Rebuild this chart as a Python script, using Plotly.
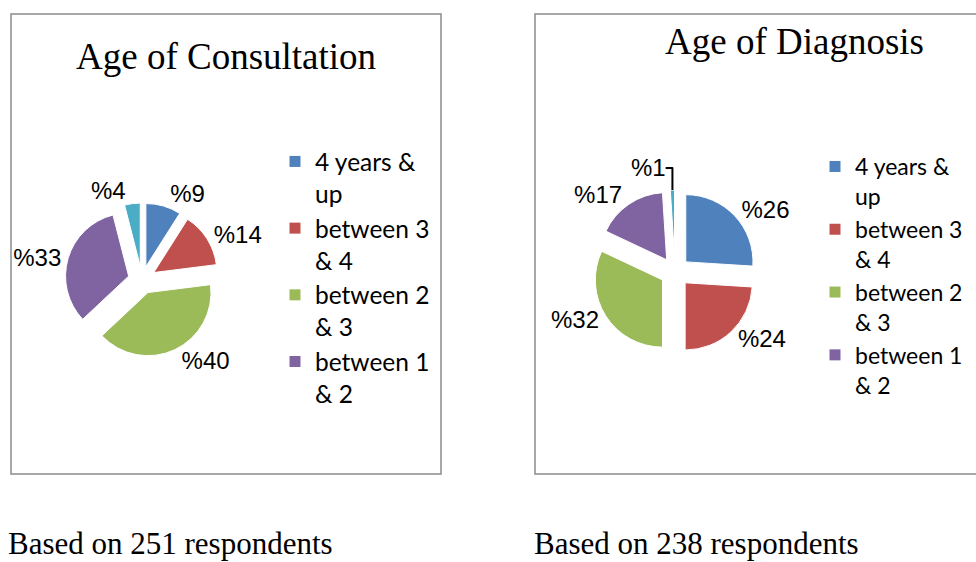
import plotly.graph_objects as go

W, H = 976, 562

# ---- data ----
categories = ["4 years &<br>up", "between 3<br>& 4", "between 2<br>& 3", "between 1<br>& 2", "under 1"]
consultation_values = [9, 14, 40, 33, 4]
diagnosis_values = [26, 24, 32, 17, 1]
colors = ["#4F81BD", "#C0504D", "#9BBB59", "#8064A2", "#4BACC6"]
titles = ["Age of Consultation", "Age of Diagnosis"]
captions = ["Based on 251 respondents", "Based on 238 respondents"]
legend_count = 4  # the fifth slice has no legend entry


def px_x(v):
    return v / W


def px_y(v):
    return 1 - v / H


fig = go.Figure()


def add_pie(values, cx, cy, half, pull):
    fig.add_trace(go.Pie(
        values=values,
        labels=categories,
        text=["%" + str(v) for v in values],
        textinfo="text",
        textposition="outside",
        textfont=dict(family="Liberation Sans, Arial", size=24, color="black"),
        sort=False,
        direction="clockwise",
        rotation=0,
        pull=pull,
        marker=dict(colors=colors, line=dict(color="white", width=1)),
        domain=dict(x=[px_x(cx - half), px_x(cx + half)],
                    y=[px_y(cy + half), px_y(cy - half)]),
        showlegend=False,
        hoverinfo="label+percent",
    ))


add_pie(consultation_values, 142, 280, 77, 0.22)
add_pie(diagnosis_values, 675, 272, 82, 0.22)

# legend entries (4 categories) for each chart
for li, leg in enumerate(["legend", "legend2"]):
    for i in range(legend_count):
        fig.add_trace(go.Scatter(
            x=[None], y=[None], mode="markers",
            marker=dict(symbol="square", size=11, color=colors[i]),
            name=categories[i], legend=leg, showlegend=True,
            xaxis="x", yaxis="y",
        ))

fig.update_layout(
    width=W, height=H, autosize=False,
    margin=dict(l=0, r=0, t=0, b=0, autoexpand=False),
    paper_bgcolor="white", plot_bgcolor="white",
    xaxis=dict(visible=False, domain=[0, 0.01]),
    yaxis=dict(visible=False, domain=[0, 0.01]),
    legend=dict(x=px_x(275), y=px_y(139), xanchor="left", yanchor="top",
                xref="container", yref="container",
                font=dict(family="Lato, Open Sans, sans-serif", size=24.5, color="black"),
                valign="top", bgcolor="rgba(0,0,0,0)",
                itemwidth=30, tracegroupgap=0),
    legend2=dict(x=px_x(815), y=px_y(145), xanchor="left", yanchor="top",
                 xref="container", yref="container",
                 font=dict(family="Lato, Open Sans, sans-serif", size=23, color="black"),
                 valign="top", bgcolor="rgba(0,0,0,0)",
                 itemwidth=30, tracegroupgap=0),
    shapes=[
        dict(type="rect", xref="paper", yref="paper",
             x0=px_x(11), x1=px_x(441), y0=px_y(474), y1=px_y(14),
             line=dict(color="#8c8c8c", width=1.5), fillcolor="rgba(0,0,0,0)"),
        dict(type="rect", xref="paper", yref="paper",
             x0=px_x(535), x1=1.02, y0=px_y(474), y1=px_y(14),
             line=dict(color="#8c8c8c", width=1.5), fillcolor="rgba(0,0,0,0)"),
    ],
    annotations=[
        dict(text=titles[0], x=px_x(226), y=px_y(57), xref="paper", yref="paper",
             showarrow=False, xanchor="center", yanchor="middle",
             font=dict(family="Liberation Serif, Times New Roman", size=37, color="black")),
        dict(text=titles[1], x=px_x(794), y=px_y(42), xref="paper", yref="paper",
             showarrow=False, xanchor="center", yanchor="middle",
             font=dict(family="Liberation Serif, Times New Roman", size=37, color="black")),
        dict(text=captions[0], x=px_x(6), y=px_y(543), xref="paper", yref="paper",
             showarrow=False, xanchor="left", yanchor="middle",
             font=dict(family="Liberation Serif, Times New Roman", size=31, color="black")),
        dict(text=captions[1], x=px_x(532), y=px_y(543), xref="paper", yref="paper",
             showarrow=False, xanchor="left", yanchor="middle",
             font=dict(family="Liberation Serif, Times New Roman", size=31, color="black")),
    ],
)

post = ("document.body.style.margin='0';"
        "document.body.style.overflow='hidden';")

fig.write_html("out.html", post_script=post, config={"displayModeBar": False})
